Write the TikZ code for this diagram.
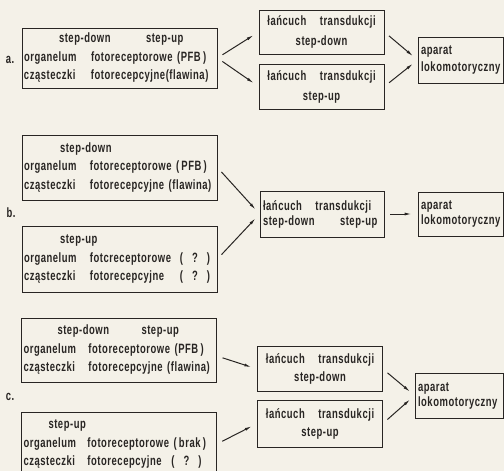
\documentclass[tikz,border=0pt]{standalone}
\usepackage{fontspec}
\newfontfamily\scanfont[UprightFont={* Bold},FakeStretch=0.7,LetterSpace=4]{Liberation Sans}
\usetikzlibrary{arrows.meta}
\definecolor{PaperColor}{RGB}{244,241,232}
\definecolor{InkColor}{RGB}{40,37,35}
\newcommand{\cellat}[2]{\makebox[#1][l]{#2}}
\newcommand{\unknown}{(\hspace{9pt}?\hspace{9pt})}
\tikzset{
  scantext/.style={text=InkColor, font=\scanfont\fontsize{13.5}{#1}\selectfont},
  srcbox/.style={draw=InkColor, line width=0.8pt, text width=191pt, inner xsep=2pt,
    inner ysep=0pt, minimum height=#1, align=left, scantext=18.5},
  chainbox/.style={draw=InkColor, line width=0.8pt, text width=119pt, inner xsep=3pt,
    inner ysep=0pt, minimum height=45pt, align=center, scantext=20},
  motorbox/.style={draw=InkColor, line width=0.8pt, text width=79pt, inner xsep=3pt,
    inner ysep=0pt, minimum height=45pt, align=left, scantext=17},
  panel/.style={scantext=14, inner sep=0pt},
  flow/.style={draw=InkColor, line width=1pt, -{Latex[length=7pt,width=3pt]},
    shorten <=6pt, shorten >=6pt}
}
\begin{document}
\begin{tikzpicture}[x=1pt, y=-1pt]
\useasboundingbox (0,0) rectangle (504,471);
\fill[PaperColor] (0,0) rectangle (504,471);
\clip (0,0) rectangle (504,471);

\node[panel] (labA) at (10,60) {a.};
\node[srcbox=60pt] (srcA) at (119.5,58) {\hspace*{35pt}\cellat{87pt}{step-down}step-up\\
  \cellat{67pt}{organelum}fotoreceptorowe (PFB\,)\\
  \cellat{67pt}{cząsteczki}fotorecepcyjne(flawina)};
\node[chainbox, minimum height=44pt] (chainAdown) at (321.5,32) {łańcuch\quad transdukcji\\step-down};
\node[chainbox] (chainAup) at (321.5,86.5) {łańcuch\quad transdukcji\\step-up};
\node[motorbox, minimum height=46pt] (motorA) at (460.5,60) {aparat\\lokomotoryczny};
\draw[flow] (srcA.east) -- (chainAdown.west);
\draw[flow] (srcA.east) -- (chainAup.west);
\draw[flow] (chainAdown.east) -- (motorA.west);
\draw[flow] (chainAup.east) -- (motorA.west);

\node[panel] (labB) at (11,213) {b.};
\node[srcbox=65pt] (srcBdown) at (119.5,167.5) {\hspace*{36pt}step-down\\
  \cellat{66pt}{organelum}fotoreceptorowe (\,PFB\,)\\
  \cellat{66pt}{cząsteczki}fotorecepcyjne (flawina)};
\node[srcbox=66pt] (srcBup) at (119.5,259) {\hspace*{36pt}step-up\\
  \cellat{66pt}{organelum}\cellat{90pt}{fotcreceptorowe}\unknown\\
  \cellat{66pt}{cząsteczki}\cellat{90pt}{fotorecepcyjne}\unknown};
\node[chainbox, align=left, text width=118pt, minimum height=46pt, scantext=15] (chainB) at (322,214)
  {łańcuch\quad transdukcji\\\cellat{77pt}{step-down}step-up};
\node[motorbox, minimum height=44pt, scantext=15] (motorB) at (460.5,214) {aparat\\lokomotoryczny};
\draw[flow] (srcBdown.east) -- (chainB.west);
\draw[flow] (srcBup.east) -- (chainB.west);
\draw[flow] (chainB.east) -- (motorB.west);

\node[panel] (labC) at (10,397) {c.};
\node[srcbox=64pt] (srcCboth) at (119,350) {\hspace*{34pt}\cellat{84pt}{step-down}step-up\\
  \cellat{65pt}{organelum}fotoreceptorowe (PFB\,)\\
  \cellat{65pt}{cząsteczki}fotorecepcyjne (flawina)};
\node[srcbox=64pt] (srcCup) at (119,444) {\hspace*{25pt}step-up\\
  \cellat{64pt}{organelum}fotoreceptorowe (\,brak\,)\\
  \cellat{64pt}{cząsteczki}\cellat{84pt}{fotorecepcyjne}\unknown};
\node[chainbox, scantext=18] (chainCdown) at (320,369) {łańcuch\quad transdukcji\\step-down};
\node[chainbox, minimum height=47pt, scantext=18] (chainCup) at (320,423.5) {łańcuch\quad transdukcji\\step-up};
\node[motorbox, text width=82pt, scantext=15] (motorC) at (459,395.5) {aparat\\lokomotoryczny};
\draw[flow] ([yshift=-6pt]srcCboth.east) -- (chainCdown.west);
\draw[flow] (srcCup.east) -- (chainCup.west);
\draw[flow] (chainCdown.east) -- (motorC.west);
\draw[flow] (chainCup.east) -- (motorC.west);
\end{tikzpicture}
\end{document}
